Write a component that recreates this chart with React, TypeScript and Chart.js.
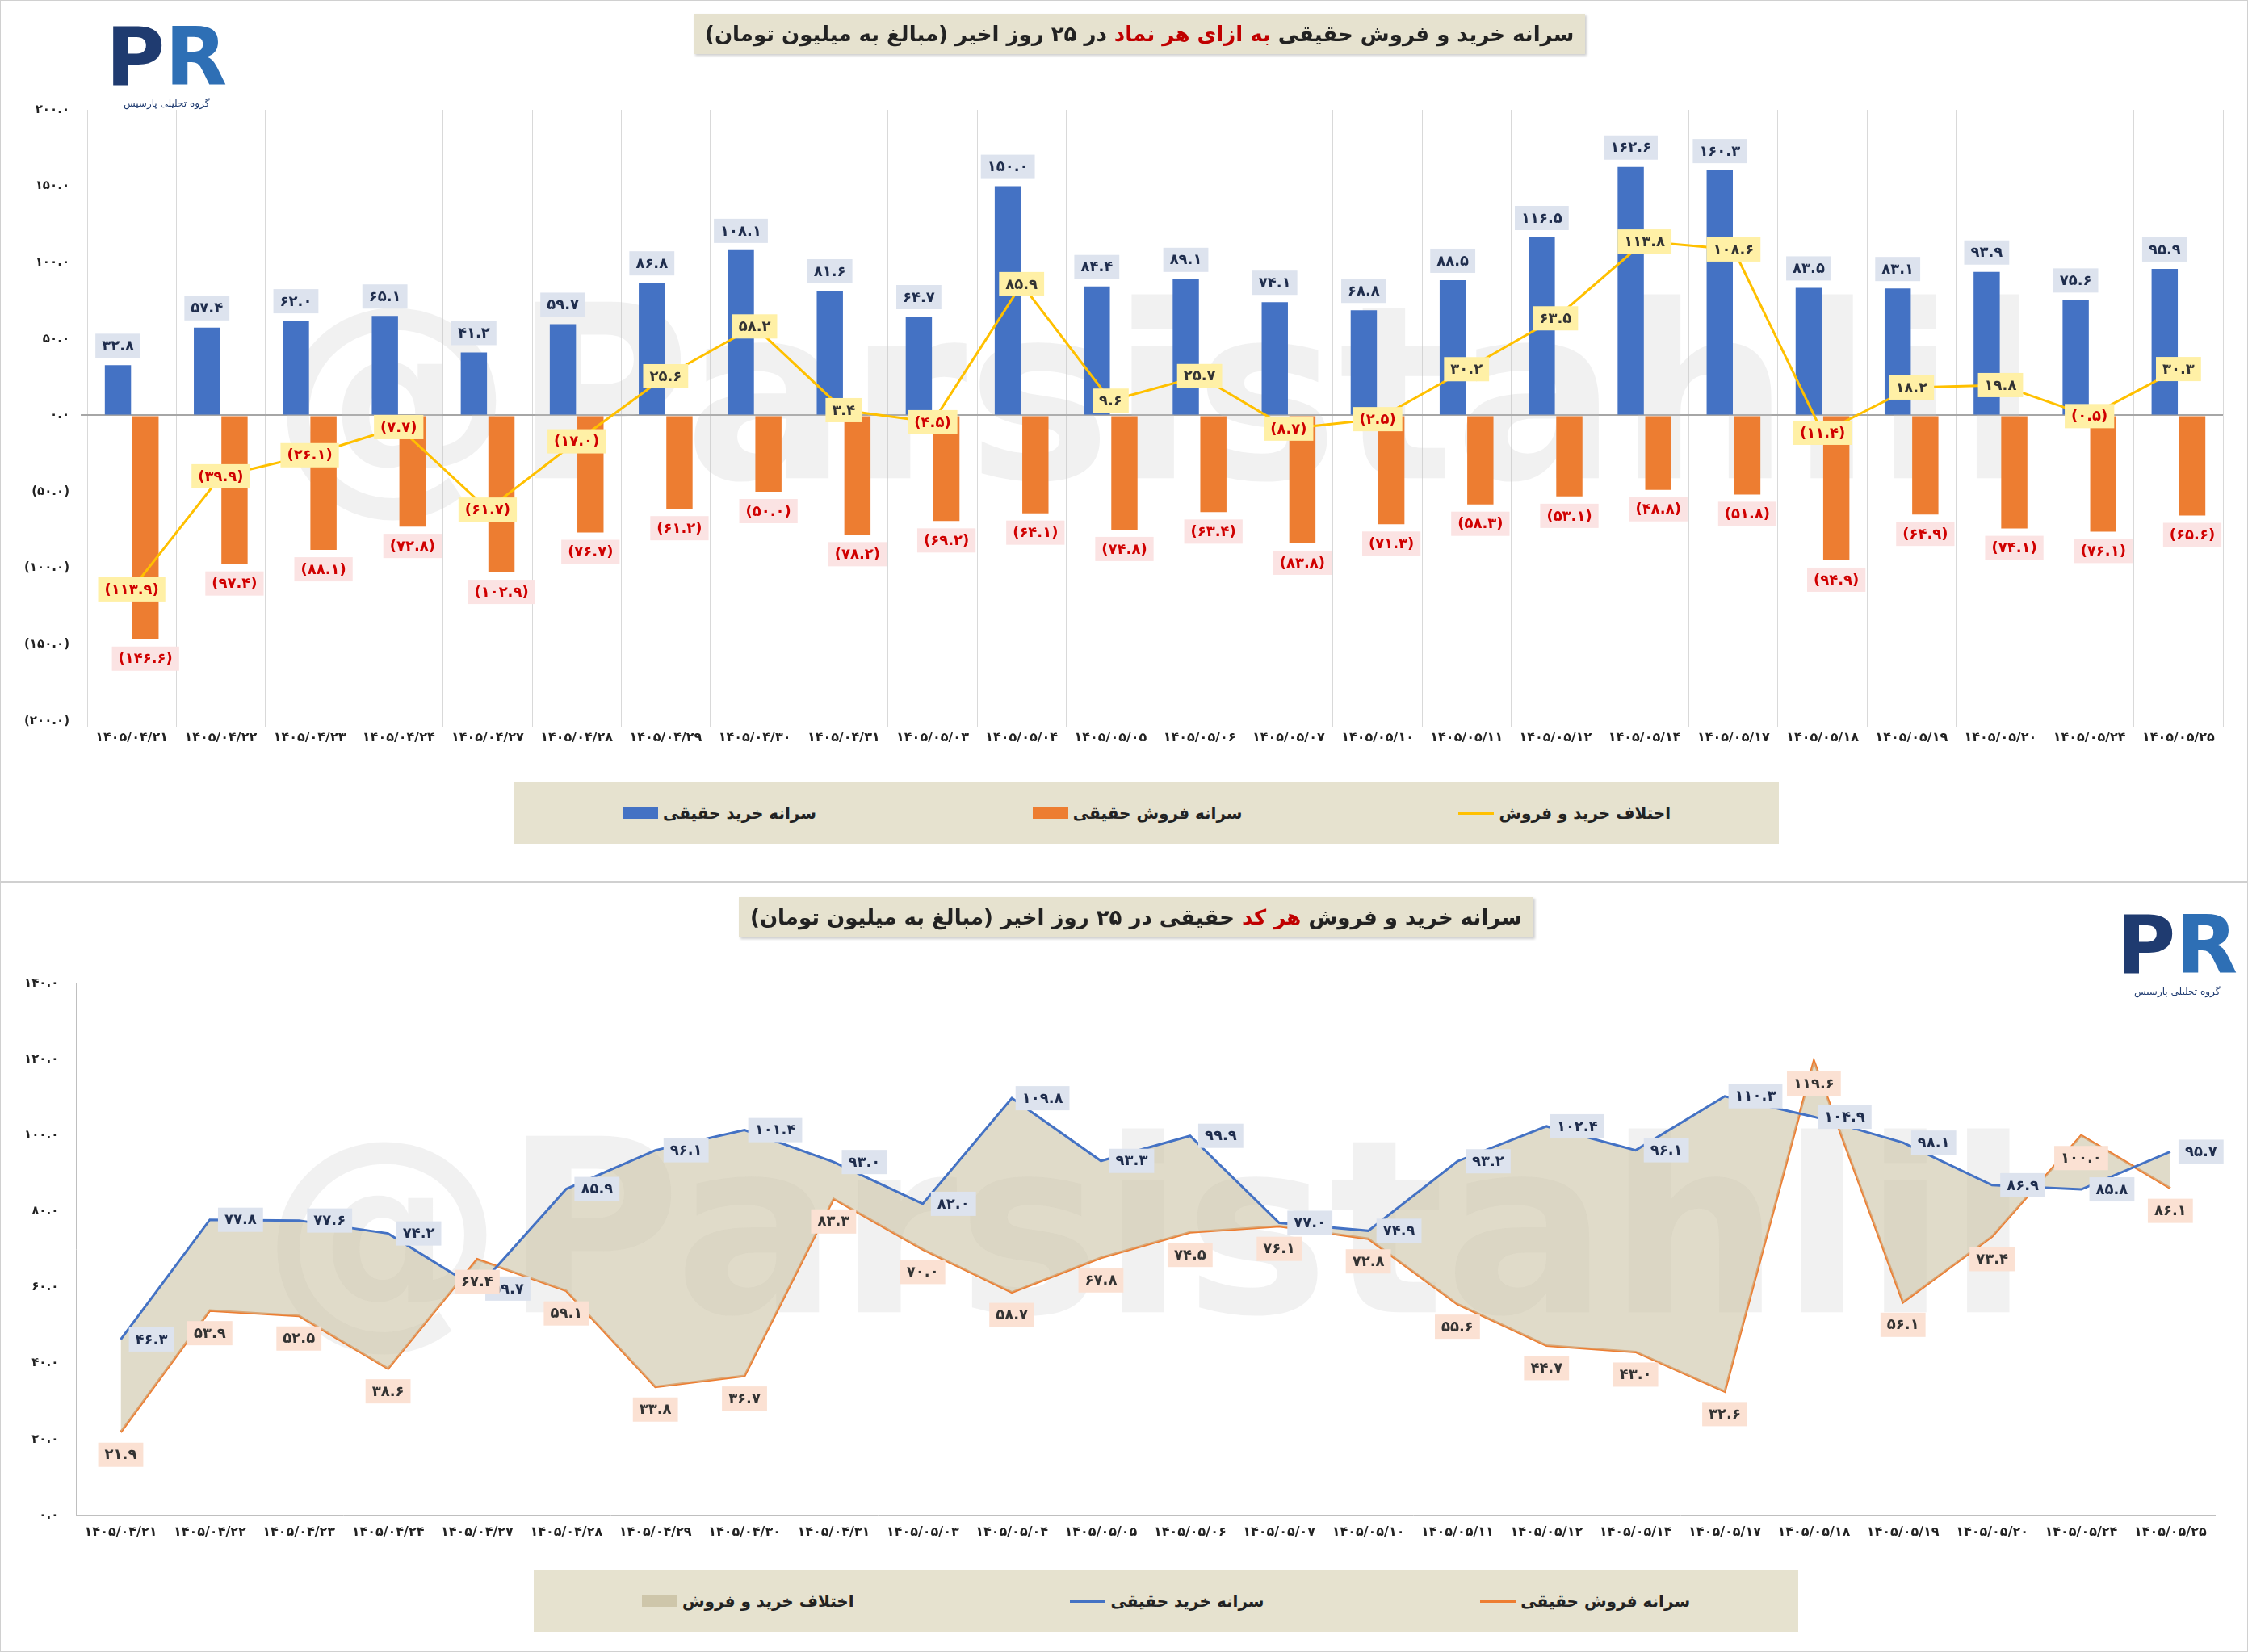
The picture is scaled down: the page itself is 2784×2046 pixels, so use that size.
import React, { useEffect, useRef } from "react";
import { Chart, registerables } from "chart.js";
Chart.register(...registerables);

const dates = ["۱۴۰۵/۰۴/۲۱","۱۴۰۵/۰۴/۲۲","۱۴۰۵/۰۴/۲۳","۱۴۰۵/۰۴/۲۴","۱۴۰۵/۰۴/۲۷","۱۴۰۵/۰۴/۲۸","۱۴۰۵/۰۴/۲۹","۱۴۰۵/۰۴/۳۰","۱۴۰۵/۰۴/۳۱","۱۴۰۵/۰۵/۰۳","۱۴۰۵/۰۵/۰۴","۱۴۰۵/۰۵/۰۵","۱۴۰۵/۰۵/۰۶","۱۴۰۵/۰۵/۰۷","۱۴۰۵/۰۵/۱۰","۱۴۰۵/۰۵/۱۱","۱۴۰۵/۰۵/۱۲","۱۴۰۵/۰۵/۱۴","۱۴۰۵/۰۵/۱۷","۱۴۰۵/۰۵/۱۸","۱۴۰۵/۰۵/۱۹","۱۴۰۵/۰۵/۲۰","۱۴۰۵/۰۵/۲۴","۱۴۰۵/۰۵/۲۵"];
const symBuy = [32.8,57.4,62.0,65.1,41.2,59.7,86.8,108.1,81.6,64.7,150.0,84.4,89.1,74.1,68.8,88.5,116.5,162.6,160.3,83.5,83.1,93.9,75.6,95.9];
const symSell = [-146.6,-97.4,-88.1,-72.8,-102.9,-76.7,-61.2,-50.0,-78.2,-69.2,-64.1,-74.8,-63.4,-83.8,-71.3,-58.3,-53.1,-48.8,-51.8,-94.9,-64.9,-74.1,-76.1,-65.6];
const symDiff = [-113.9,-39.9,-26.1,-7.7,-61.7,-17.0,25.6,58.2,3.4,-4.5,85.9,9.6,25.7,-8.7,-2.5,30.2,63.5,113.8,108.6,-11.4,18.2,19.8,-0.5,30.3];
const codeBuy = [46.3,77.8,77.6,74.2,59.7,85.9,96.1,101.4,93.0,82.0,109.8,93.3,99.9,77.0,74.9,93.2,102.4,96.1,110.3,104.9,98.1,86.9,85.8,95.7];
const codeSell = [21.9,53.9,52.5,38.6,67.4,59.1,33.8,36.7,83.3,70.0,58.7,67.8,74.5,76.1,72.8,55.6,44.7,43.0,32.6,119.6,56.1,73.4,100.0,86.1];

const FONT = "'DejaVu Sans', 'Noto Sans', sans-serif";
const fa = (s: string) => s.replace(/[0-9]/g, (d) => "۰۱۲۳۴۵۶۷۸۹"[+d]);
const fmt = (v: number) => (v < 0 ? "(" + fa(Math.abs(v).toFixed(1)) + ")" : fa(v.toFixed(1)));

function box(ctx: CanvasRenderingContext2D, text: string, cx: number, cy: number, bg: string, fg: string) {
  ctx.font = `bold 18px ${FONT}`;
  const w = ctx.measureText(text).width + 16, h = 30;
  ctx.fillStyle = bg;
  ctx.fillRect(cx - w / 2, cy - h / 2, w, h);
  ctx.fillStyle = fg;
  ctx.textAlign = "center";
  ctx.textBaseline = "middle";
  ctx.fillText(text, cx, cy + 1);
}

const watermark = {
  id: "wm",
  beforeDatasetsDraw(chart: any) {
    const { ctx, chartArea } = chart;
    ctx.save();
    ctx.font = `bold 300px ${FONT}`;
    ctx.fillStyle = "rgba(200,200,200,0.25)";
    ctx.textAlign = "center";
    ctx.textBaseline = "middle";
    ctx.fillText("@Parsistahlil", (chartArea.left + chartArea.right) / 2, (chartArea.top + chartArea.bottom) / 2);
    ctx.restore();
  },
};

const topLabels = {
  id: "tl",
  afterDatasetsDraw(chart: any) {
    const ctx = chart.ctx;
    ctx.save();
    chart.getDatasetMeta(0).data.forEach((b: any, i: number) => box(ctx, fmt(symBuy[i]), b.x, b.y - 24, "#dde3ee", "#1f2d4d"));
    chart.getDatasetMeta(1).data.forEach((b: any, i: number) => box(ctx, fmt(symSell[i]), b.x, b.y + 24, "#fbe3e3", "#d00000"));
    chart.getDatasetMeta(2).data.forEach((p: any, i: number) => box(ctx, fmt(symDiff[i]), p.x, p.y, "#fff0a6", symDiff[i] < 0 ? "#d00000" : "#333"));
    ctx.restore();
  },
};

const botLabels = {
  id: "bl",
  afterDatasetsDraw(chart: any) {
    const ctx = chart.ctx;
    ctx.save();
    chart.getDatasetMeta(0).data.forEach((p: any, i: number) => box(ctx, fmt(codeBuy[i]), p.x + 38, p.y, "#dde3ee", "#1f2d4d"));
    chart.getDatasetMeta(1).data.forEach((p: any, i: number) => box(ctx, fmt(codeSell[i]), p.x, p.y + 28, "#fbe1d3", "#333"));
    ctx.restore();
  },
};

const tickFont = { family: FONT, size: 16, weight: "bold" as const };

function TopChart() {
  const ref = useRef<HTMLCanvasElement>(null);
  useEffect(() => {
    const c = new Chart(ref.current!, {
      data: {
        labels: dates,
        datasets: [
          { type: "bar", label: "buy", data: symBuy, backgroundColor: "#4472c4", categoryPercentage: 0.62, barPercentage: 0.95, order: 2 },
          { type: "bar", label: "sell", data: symSell, backgroundColor: "#ed7d31", categoryPercentage: 0.62, barPercentage: 0.95, order: 2 },
          { type: "line", label: "diff", data: symDiff, borderColor: "#ffc000", borderWidth: 3, pointRadius: 0, tension: 0, order: 1 },
        ],
      } as any,
      options: {
        animation: false, responsive: true, maintainAspectRatio: false,
        layout: { padding: { top: 135, bottom: 165, left: 15, right: 30 } },
        plugins: { legend: { display: false }, tooltip: { enabled: false } },
        scales: {
          x: { offset: true, grid: { offset: true, color: "#d9d9d9", drawTicks: true }, border: { display: false }, ticks: { font: tickFont, color: "#222", maxRotation: 0, autoSkip: false } },
          y: { min: -200, max: 200, ticks: { stepSize: 50, font: { ...tickFont, size: 15 }, color: "#222", callback: (v: any) => fmt(+v), padding: 14 },
               grid: { color: (c: any) => (c.tick.value === 0 ? "#a6a6a6" : "transparent"), lineWidth: 2 }, border: { display: false } },
        },
      },
      plugins: [watermark, topLabels],
    });
    return () => c.destroy();
  }, []);
  return <canvas ref={ref} />;
}

function BottomChart() {
  const ref = useRef<HTMLCanvasElement>(null);
  useEffect(() => {
    const c = new Chart(ref.current!, {
      type: "line",
      data: {
        labels: dates,
        datasets: [
          { label: "buy", data: codeBuy, borderColor: "#4472c4", borderWidth: 3, pointRadius: 0, fill: "+1", backgroundColor: "rgba(203,195,165,0.6)", tension: 0 },
          { label: "sell", data: codeSell, borderColor: "#ed7d31", borderWidth: 3, pointRadius: 0, fill: false, tension: 0 },
        ],
      },
      options: {
        animation: false, responsive: true, maintainAspectRatio: false,
        layout: { padding: { top: 125, bottom: 135, left: 15, right: 40 } },
        plugins: { legend: { display: false }, tooltip: { enabled: false } },
        scales: {
          x: { offset: true, grid: { offset: true, display: false }, border: { color: "#bfbfbf" }, ticks: { font: tickFont, color: "#222", maxRotation: 0, autoSkip: false } },
          y: { min: 0, max: 140, ticks: { stepSize: 20, font: { ...tickFont, size: 15 }, color: "#222", callback: (v: any) => fmt(+v), padding: 14 },
               grid: { display: false, drawTicks: true }, border: { color: "#bfbfbf" } },
        },
      },
      plugins: [watermark, botLabels],
    });
    return () => c.destroy();
  }, []);
  return <canvas ref={ref} />;
}

const titleStyle: React.CSSProperties = {
  position: "absolute", background: "#e6e2cf", fontFamily: FONT, fontWeight: "bold", fontSize: 26,
  color: "#222", direction: "rtl", padding: "10px 14px", whiteSpace: "nowrap", boxShadow: "2px 2px 3px rgba(0,0,0,0.2)",
};
const legendStyle: React.CSSProperties = {
  position: "absolute", background: "#e6e2cf", fontFamily: FONT, fontSize: 20, fontWeight: "bold", color: "#222",
  display: "flex", justifyContent: "space-around", alignItems: "center", direction: "ltr",
};
const Sw = ({ color, line }: { color: string; line?: boolean }) => (
  <span style={{ display: "inline-block", width: 44, height: line ? 3 : 14, background: color, marginRight: 6, verticalAlign: "middle" }} />
);
const Item = ({ color, line, text }: { color: string; line?: boolean; text: string }) => (
  <span style={{ display: "flex", alignItems: "center" }}><Sw color={color} line={line} /><span style={{ direction: "rtl" }}>{text}</span></span>
);

function Logo({ left, top }: { left: number; top: number }) {
  return (
    <div style={{ position: "absolute", left, top, fontFamily: FONT, textAlign: "center", color: "#1f3b70" }}>
      <div style={{ fontSize: 100, fontWeight: "bold", lineHeight: "100px" }}>P<span style={{ color: "#2e6fb5" }}>R</span></div>
      <div style={{ fontSize: 12, direction: "rtl" }}>گروه تحلیلی پارسیس</div>
    </div>
  );
}

export default function App() {
  useEffect(() => { document.body.style.margin = "0"; }, []);
  return (
    <div style={{ width: 2784, height: 2046, background: "#fff", position: "relative" }}>
      <div style={{ position: "absolute", left: 0, top: 0, width: 2782, height: 1090, border: "1px solid #d0d0d0" }}>
        <div style={{ position: "absolute", inset: 0 }}><TopChart /></div>
        <div style={{ ...titleStyle, left: 858, top: 16 }}>
          سرانه خرید و فروش حقیقی <span style={{ color: "#c00000" }}>به ازای هر نماد</span> در ۲۵ روز اخیر (مبالغ به میلیون تومان)
        </div>
        <Logo left={130} top={20} />
        <div style={{ ...legendStyle, left: 636, top: 968, width: 1566, height: 76 }}>
          <Item color="#4472c4" text="سرانه خرید حقیقی" />
          <Item color="#ed7d31" text="سرانه فروش حقیقی" />
          <Item color="#ffc000" line text="اختلاف خرید و فروش" />
        </div>
      </div>
      <div style={{ position: "absolute", left: 0, top: 1092, width: 2782, height: 952, border: "1px solid #d0d0d0" }}>
        <div style={{ position: "absolute", inset: 0 }}><BottomChart /></div>
        <div style={{ ...titleStyle, left: 914, top: 18 }}>
          سرانه خرید و فروش <span style={{ color: "#c00000" }}>هر کد</span> حقیقی در ۲۵ روز اخیر (مبالغ به میلیون تومان)
        </div>
        <Logo left={2620} top={28} />
        <div style={{ ...legendStyle, left: 660, top: 852, width: 1566, height: 76 }}>
          <Item color="rgba(203,195,165,0.9)" text="اختلاف خرید و فروش" />
          <Item color="#4472c4" line text="سرانه خرید حقیقی" />
          <Item color="#ed7d31" line text="سرانه فروش حقیقی" />
        </div>
      </div>
    </div>
  );
}
